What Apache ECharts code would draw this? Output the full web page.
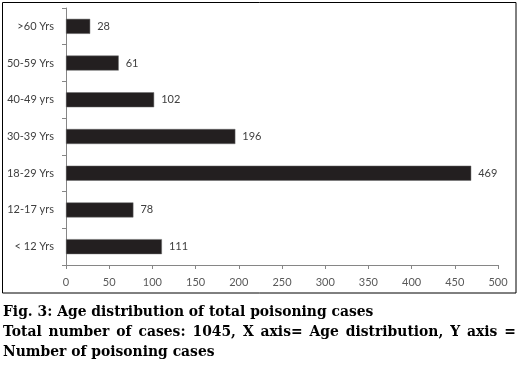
<!DOCTYPE html>
<html><head><meta charset="utf-8">
<script src="https://cdn.jsdelivr.net/npm/echarts@6/dist/echarts.min.js"></script>
<style>html,body{margin:0;padding:0;background:#fff}#c{width:517px;height:365px}</style>
</head><body><div id="c"></div>
<script>
var categories = ['< 12 Yrs','12-17 yrs','18-29 Yrs','30-39 Yrs','40-49 yrs','50-59 Yrs','>60 Yrs'];
var cases = [111, 78, 469, 196, 102, 61, 28];
var xTicks = [0, 50, 100, 150, 200, 250, 300, 350, 400, 450, 500];
var captionLine1 = 'Fig. 3: Age distribution of total poisoning cases';
var captionLine2 = 'Total number of cases: 1045, X axis= Age distribution, Y axis =';
var captionLine3 = 'Number of poisoning cases';

var ctx = document.createElement('canvas').getContext('2d');
ctx.font = 'bold 14px "DejaVu Serif"';
var w14 = ctx.measureText(captionLine1).width;
var capSize = Math.round(14 * 370 / w14 * 10) / 10;
var capFont = 'bold ' + capSize + 'px "DejaVu Serif"';
ctx.font = capFont;
function justify(line, x0, x1, y) {
  var words = line.split(' ');
  var total = 0;
  words.forEach(function(w){ total += ctx.measureText(w).width; });
  var gap = (x1 - x0 - total) / (words.length - 1);
  var x = x0, out = [];
  words.forEach(function(w){
    out.push({type:'text', left:x, top:y, style:{text:w, font:capFont, fill:'#000'}});
    x += ctx.measureText(w).width + gap;
  });
  return out;
}
var graphics = [
  {type:'rect', shape:{x:2.5, y:2.5, width:513.5, height:290.5}, style:{fill:'none', stroke:'#000', lineWidth:1}},
  {type:'text', left:3, top:305, style:{text:captionLine1, font:capFont, fill:'#000'}},
  {type:'text', left:3, top:345, style:{text:captionLine3, font:capFont, fill:'#000'}}
].concat(justify(captionLine2, 3, 516, 325.5));

var chart = echarts.init(document.getElementById('c'));
chart.setOption({
  animation: false,
  grid: {left: 66, right: 19, top: 8, bottom: 100},
  xAxis: {
    type: 'value', min: xTicks[0], max: xTicks[xTicks.length-1], interval: 50,
    axisLine: {show: true, lineStyle: {color: '#868686'}},
    axisTick: {show: true, length: 4, lineStyle: {color: '#868686'}},
    splitLine: {show: false},
    axisLabel: {margin: 12, color: '#595959', fontFamily: 'Lato', fontSize: 11}
  },
  yAxis: {
    type: 'category', data: categories,
    axisLine: {show: true, lineStyle: {color: '#868686'}},
    axisTick: {show: true, length: 4, lineStyle: {color: '#868686'}},
    axisLabel: {margin: 12, color: '#404040', fontFamily: 'Lato', fontSize: 11}
  },
  series: [{
    type: 'bar', data: cases, barWidth: 15,
    itemStyle: {color: '#231f20', borderColor: '#6d6d6d', borderWidth: 0.5},
    label: {show: true, position: 'right', distance: 7, color: '#404040', fontFamily: 'Lato', fontSize: 11}
  }],
  graphic: graphics
});
</script></body></html>
